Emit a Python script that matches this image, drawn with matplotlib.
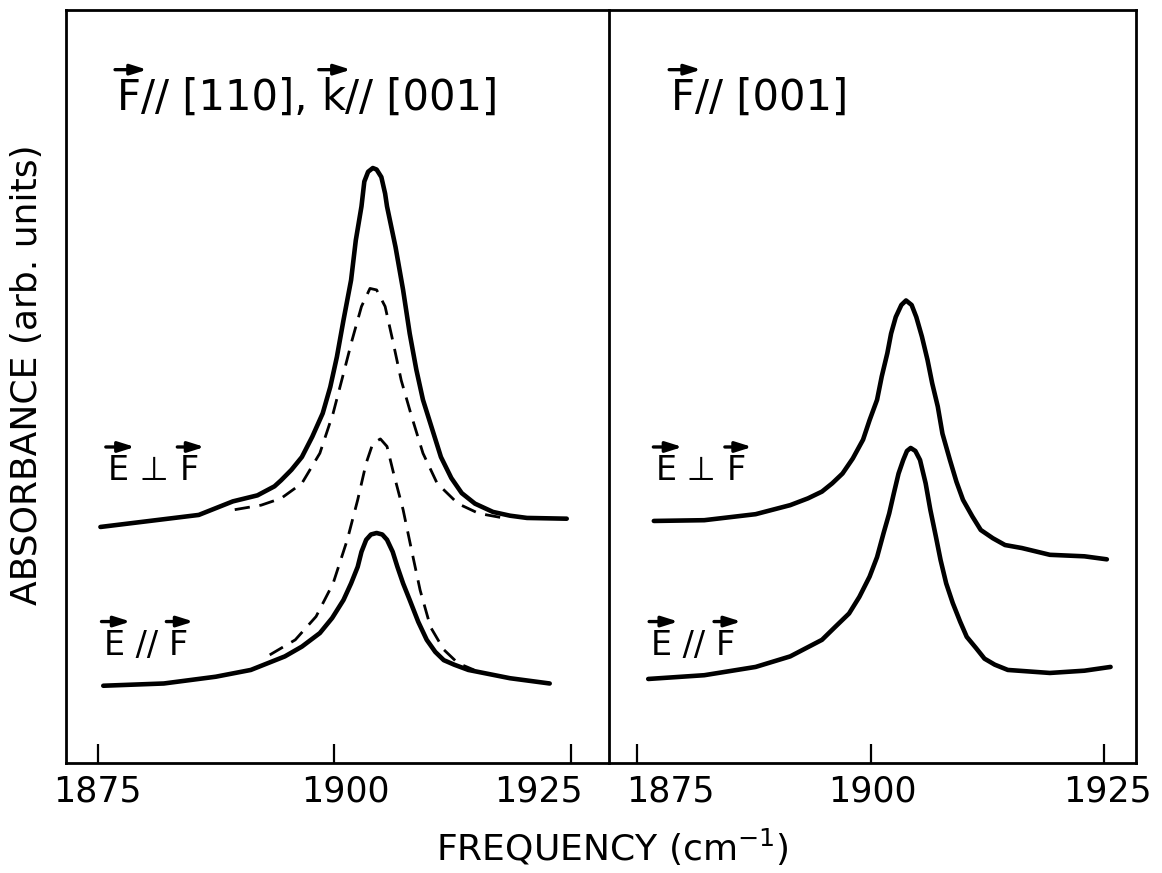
import matplotlib
matplotlib.use("Agg")
import matplotlib.pyplot as plt
import matplotlib.transforms as mtransforms

plt.rcParams['font.family'] = ['DejaVu Sans']

# ---------------- data ----------------
xticks = [1875, 1900, 1925]
xtick_labels = ['1875', '1900', '1925']

# Left panel: F // [110], k // [001]
left_perp_f = [1875.3, 1883.1, 1885.7, 1889.3, 1891.9, 1893.7, 1894.4, 1895.5, 1896.6, 1897.7,
               1898.8, 1899.6, 1900.3, 1901.0, 1901.8, 1902.3, 1902.9, 1903.2, 1903.6, 1904.1,
               1904.5, 1905.0, 1905.4, 1905.6, 1906.5, 1907.3, 1908.0, 1908.7, 1909.4, 1910.4,
               1911.3, 1912.4, 1913.5, 1914.9, 1916.8, 1918.6, 1920.4, 1924.6]
left_perp_a = [31.3, 32.5, 32.9, 34.7, 35.5, 36.7, 37.5, 38.9, 40.6, 43.3,
               46.4, 49.9, 53.9, 58.8, 64.1, 69.4, 73.9, 77.2, 78.5, 79.0,
               78.8, 77.8, 75.6, 73.9, 68.5, 62.8, 57.0, 52.2, 48.2, 44.2,
               40.6, 37.8, 35.8, 34.4, 33.3, 32.8, 32.5, 32.4]

left_perp_dash_f = [1889.5, 1892.3, 1894.4, 1896.6, 1898.5, 1899.9, 1901.0, 1901.9, 1902.9, 1903.8,
                    1904.5, 1905.4, 1906.2, 1907.1, 1908.2, 1909.4, 1910.9, 1913.1, 1915.3, 1917.9]
left_perp_dash_a = [33.6, 34.2, 35.1, 37.1, 41.1, 46.4, 51.7, 56.1, 60.6, 63.0,
                    62.8, 60.6, 56.1, 50.8, 46.0, 41.1, 37.1, 34.4, 33.1, 32.5]

left_par_f = [1875.6, 1882.0, 1887.5, 1891.2, 1894.8, 1896.6, 1898.5, 1899.8, 1901.0, 1901.8,
              1902.5, 1902.9, 1903.4, 1903.9, 1904.5, 1905.1, 1905.6, 1906.2, 1906.7, 1907.3,
              1908.0, 1908.9, 1909.8, 1910.7, 1911.6, 1912.7, 1914.2, 1918.6, 1922.8]
left_par_a = [10.2, 10.5, 11.4, 12.3, 14.1, 15.4, 17.2, 19.2, 21.6, 23.8,
              26.0, 28.0, 29.6, 30.3, 30.5, 30.3, 29.6, 28.0, 26.0, 23.8,
              21.6, 18.7, 16.3, 14.7, 13.6, 13.0, 12.3, 11.2, 10.5]

left_par_dash_f = [1893.2, 1895.9, 1898.1, 1899.9, 1901.4, 1902.5, 1903.4, 1904.1, 1904.9, 1905.6,
                   1906.3, 1907.3, 1908.2, 1909.1, 1910.2, 1911.6, 1913.1, 1914.8]
left_par_dash_a = [14.3, 16.3, 19.4, 23.8, 29.6, 34.9, 39.8, 42.4, 43.0, 42.0,
                   38.4, 33.6, 28.2, 22.9, 18.0, 15.0, 13.2, 12.3]

# Right panel: F // [001]
right_perp_f = [1876.8, 1882.2, 1887.7, 1891.4, 1893.3, 1894.8, 1895.9, 1897.0, 1898.1, 1899.2,
                1899.9, 1900.7, 1901.2, 1901.8, 1902.2, 1902.7, 1903.3, 1903.8, 1904.4, 1904.9,
                1905.5, 1906.1, 1906.6, 1907.2, 1907.7, 1908.5, 1909.2, 1909.9, 1910.9, 1911.8,
                1913.1, 1914.4, 1916.2, 1919.2, 1922.9, 1925.3]
right_perp_a = [32.1, 32.2, 33.0, 34.2, 35.1, 36.0, 37.1, 38.4, 40.4, 42.9,
                45.5, 48.2, 51.3, 54.4, 57.0, 59.2, 60.8, 61.4, 60.8, 59.2,
                56.6, 53.5, 50.4, 47.3, 43.7, 40.2, 37.3, 34.9, 32.7, 30.9,
                29.8, 28.9, 28.5, 27.6, 27.4, 27.0]

right_par_f = [1876.2, 1882.2, 1887.7, 1891.4, 1894.8, 1896.2, 1897.7, 1898.8, 1899.9, 1900.7,
               1901.4, 1902.0, 1902.5, 1903.0, 1903.5, 1903.9, 1904.3, 1904.8, 1905.3, 1905.9,
               1906.4, 1907.0, 1907.5, 1908.1, 1908.8, 1909.6, 1910.3, 1911.3, 1912.2, 1913.3,
               1914.7, 1919.2, 1922.9, 1925.7]
right_par_a = [11.1, 11.6, 12.7, 14.1, 16.3, 18.0, 19.8, 22.0, 24.7, 27.3,
               30.5, 33.1, 35.8, 38.4, 40.2, 41.4, 41.8, 41.4, 40.2, 37.1,
               33.6, 30.0, 26.9, 23.8, 21.2, 18.7, 16.7, 15.2, 13.8, 13.0,
               12.3, 11.9, 12.2, 12.7]

# ---------------- figure ----------------
W, H = 1162, 873
fig = plt.figure(figsize=(W / 100, H / 100), dpi=100)
y0, y1 = 762.5, 10.0
axL = fig.add_axes([66 / W, 1 - y0 / H, (609 - 66) / W, (y0 - y1) / H])
axR = fig.add_axes([609 / W, 1 - y0 / H, (1135.8 - 609) / W, (y0 - y1) / H])
for ax in (axL, axR):
    ax.patch.set_visible(False)

solid_kw = dict(color='black', lw=3.3, solid_capstyle='round', solid_joinstyle='round')
dash_kw = dict(color='black', lw=2.0, linestyle=(0, (5.5, 3.5)))

axL.plot(left_perp_f, left_perp_a, **solid_kw)
axL.plot(left_perp_dash_f, left_perp_dash_a, **dash_kw)
axL.plot(left_par_f, left_par_a, **solid_kw)
axL.plot(left_par_dash_f, left_par_dash_a, **dash_kw)
axR.plot(right_perp_f, right_perp_a, **solid_kw)
axR.plot(right_par_f, right_par_a, **solid_kw)

axL.set_xlim(1871.66, 1929.07)
axR.set_xlim(1872.0, 1928.4)
for ax in (axL, axR):
    ax.set_ylim(0, 100)
    ax.set_xticks(xticks)
    ax.set_xticklabels(xtick_labels)
    ax.set_yticks([])
    ax.tick_params(axis='x', direction='in', length=14, width=1.6, labelsize=25, pad=9,
                   top=False)
    for sp in ax.spines.values():
        sp.set_linewidth(2.0)
axR.spines['left'].set_visible(False)

fig.text(27 / W, 1 - 375 / H, 'ABSORBANCE (arb. units)', rotation=90, fontsize=26,
         ha='center', va='center')
fig.text(612 / W, 1 - 847 / H, r'FREQUENCY (cm$^{-1}$)', fontsize=26,
         ha='center', va='center')

fig.canvas.draw()
renderer = fig.canvas.get_renderer()

# hand-lettered tick labels are nudged away from the panel divider
for ax, shifts in ((axL, [0, 11, -32]), (axR, [33, 2, 3])):
    for lbl, dx in zip(ax.get_xticklabels(), shifts):
        lbl.set_transform(lbl.get_transform() +
                          mtransforms.ScaledTranslation(dx / 100, 0, fig.dpi_scale_trans))


def vec_label(ax, x, y, segments, fontsize, gap=9):
    """Place text segments one after another; draw an arrow over flagged ones."""
    cur = x
    base_px = ax.transAxes.transform((x, y))[1]
    cap = 0.73 * fontsize * fig.dpi / 72.0
    for s, arrow in segments:
        t = ax.text(cur, y, s, transform=ax.transAxes, fontsize=fontsize,
                    ha='left', va='baseline')
        bb = t.get_window_extent(renderer)
        if arrow:
            ya = base_px + cap + gap
            ax.annotate('', xy=(bb.x1 + 6, ya), xytext=(bb.x0 - 2, ya),
                        xycoords='figure pixels', textcoords='figure pixels',
                        arrowprops=dict(arrowstyle='-|>,head_length=0.7,head_width=0.22',
                                        lw=2.4, color='black', shrinkA=0, shrinkB=0,
                                        mutation_scale=14))
        cur = ax.transAxes.inverted().transform((bb.x1, bb.y0))[0]


vec_label(axL, 0.094, 0.867, [('F', True), ('// [110], ', False), ('k', True),
                               ('// [001]', False)], 30, gap=10)
vec_label(axR, 0.118, 0.867, [('F', True), ('// [001]', False)], 30, gap=10)

vec_label(axL, 0.077, 0.375, [('E', True), (' ⊥ ', False), ('F', True)], 24)
vec_label(axL, 0.069, 0.143, [('E', True), (' // ', False), ('F', True)], 24)
vec_label(axR, 0.088, 0.375, [('E', True), (' ⊥ ', False), ('F', True)], 24)
vec_label(axR, 0.080, 0.143, [('E', True), (' // ', False), ('F', True)], 24)

fig.savefig('out.png', dpi=100)
